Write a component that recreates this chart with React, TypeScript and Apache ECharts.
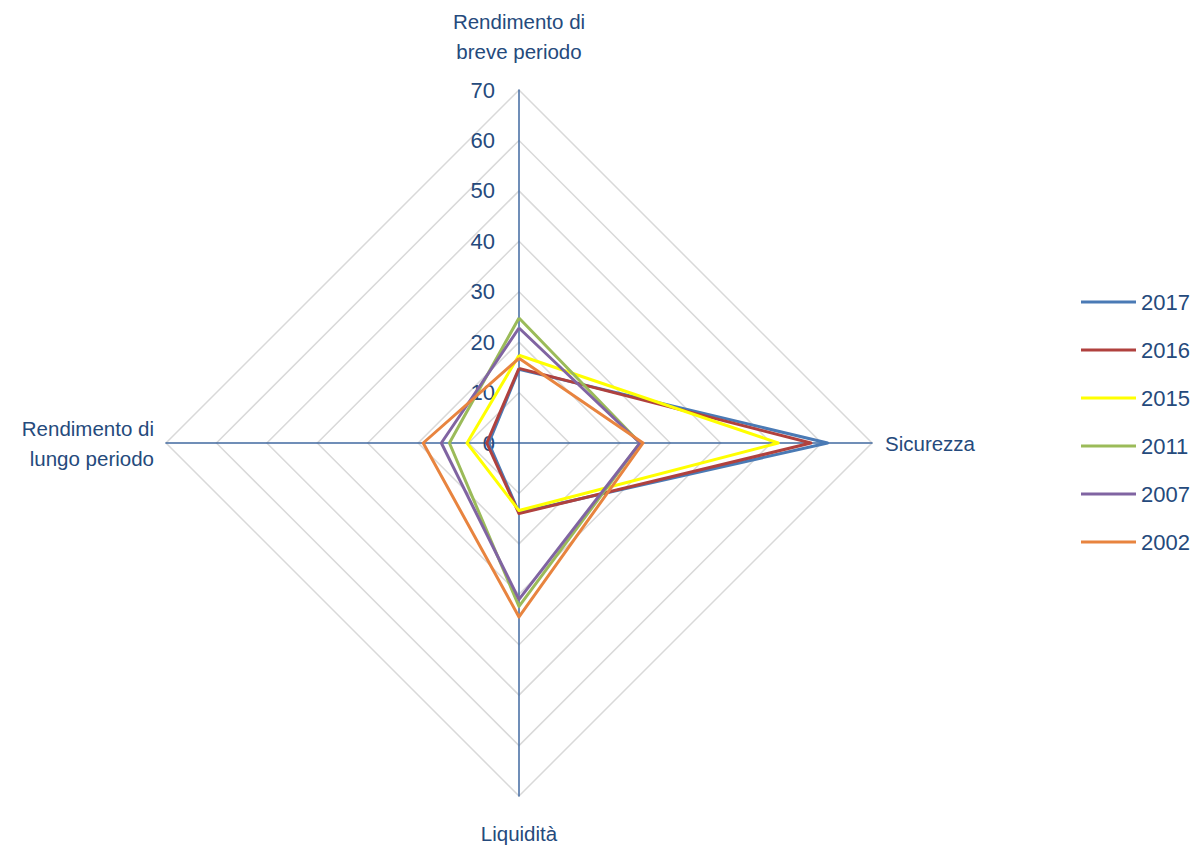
import React, { useEffect, useRef } from "react";
import * as echarts from "echarts";

const indicatorNames = [
  "Rendimento di\nbreve periodo",
  "Rendimento di\nlungo periodo",
  "Liquidità",
  "Sicurezza",
];
const axisMax = 70;
const years = ["2017", "2016", "2015", "2011", "2007", "2002"];
const colors = ["#4a7ab5", "#b0413e", "#FFFF00", "#9BBB59", "#8064A2", "#e8843f"];
const v2017 = [14.6, 6.0, 13.8, 61.2];
const v2016 = [14.8, 6.4, 14.0, 57.9];
const v2015 = [17.4, 10.3, 13.4, 51.4];
const v2011 = [24.8, 13.8, 32.4, 24.0];
const v2007 = [22.8, 15.4, 31.0, 24.0];
const v2002 = [16.8, 19.0, 34.5, 24.6];
const seriesValues = [v2017, v2016, v2015, v2011, v2007, v2002];

const FONT = "'Liberation Sans', Arial, sans-serif";
const TEXT = "#254a7c";
const nameGaps = [24, 12, 22, 13];

export default function App() {
  const ref = useRef<HTMLDivElement>(null);
  useEffect(() => {
    if (!ref.current) return;
    const chart = echarts.init(ref.current, undefined, { renderer: "svg" });
    chart.setOption({
      animation: false,
      backgroundColor: "#ffffff",
      textStyle: { fontFamily: FONT },
      legend: {
        orient: "vertical",
        left: 1076,
        top: 286,
        itemWidth: 55,
        itemHeight: 3,
        itemGap: 26,
        icon: "rect",
        data: years,
        textStyle: { fontSize: 22, color: TEXT, fontFamily: FONT },
      },
      radar: {
        center: [519, 443],
        radius: 353,
        startAngle: 90,
        shape: "polygon",
        splitNumber: 7,
        nameGap: 18,
        axisName: {
          color: TEXT,
          fontSize: 20.5,
          lineHeight: 30,
          fontFamily: FONT,
        },
        indicator: indicatorNames.map((name, i) => ({
          name,
          min: 0,
          max: axisMax,
          nameGap: nameGaps[i],
          axisLabel: i === 0 ? { show: true } : undefined,
        })),
        axisLine: { lineStyle: { color: "#4169a0", width: 1.5 } },
        axisTick: { show: false },
        axisLabel: {
          show: false,
          color: TEXT,
          fontSize: 22,
          fontFamily: FONT,
          margin: 24,
        },
        splitLine: { lineStyle: { color: "#d9d9d9", width: 1.5 } },
        splitArea: { show: false },
      },
      series: years.map((y, i) => ({
        name: y,
        type: "radar",
        symbol: "none",
        lineStyle: { color: colors[i], width: 3 },
        itemStyle: { color: colors[i] },
        data: [{ value: seriesValues[i], name: y }],
      })),
    });
    return () => chart.dispose();
  }, []);
  return (
    <div
      ref={ref}
      style={{ position: "fixed", left: 0, top: 0, width: 1194, height: 846 }}
    />
  );
}
